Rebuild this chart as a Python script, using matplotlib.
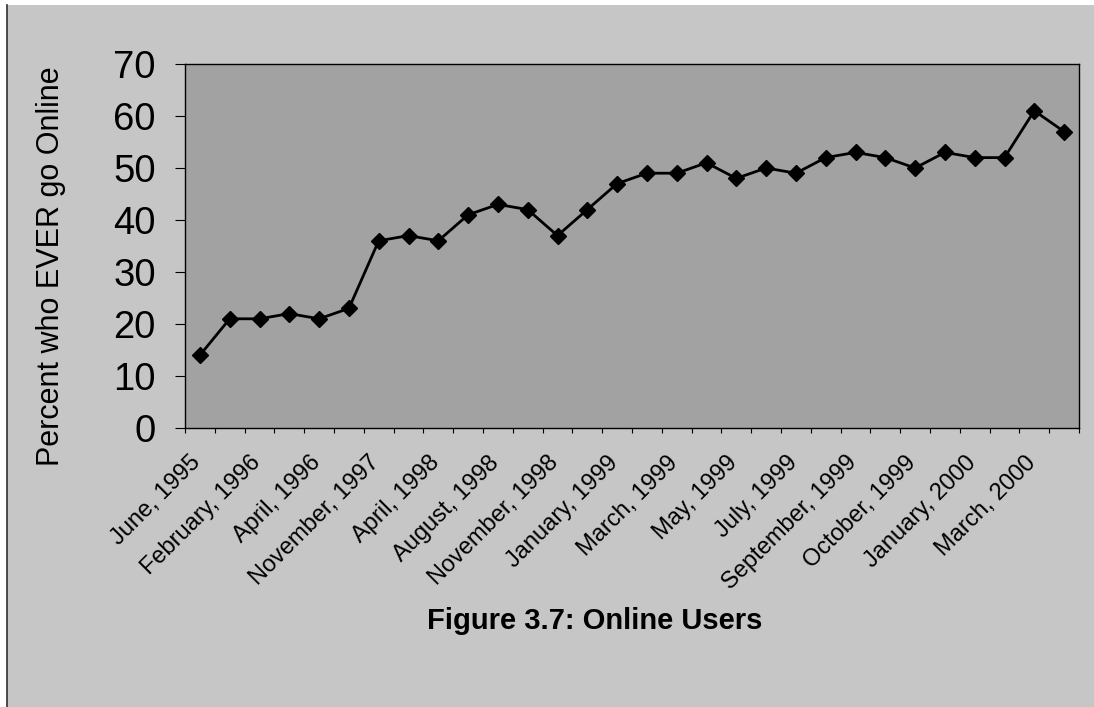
import matplotlib
matplotlib.use("Agg")
import matplotlib.pyplot as plt
import matplotlib.transforms as mtransforms
from matplotlib.patches import Rectangle

plt.rcParams['font.family'] = ['Liberation Sans', 'DejaVu Sans']

# Survey waves (every other wave is labelled on the axis)
tick_labels = ["June, 1995", "February, 1996", "April, 1996", "November, 1997",
               "April, 1998", "August, 1998", "November, 1998", "January, 1999",
               "March, 1999", "May, 1999", "July, 1999", "September, 1999",
               "October, 1999", "January, 2000", "March, 2000"]
# Percent of adults who ever go online, one value per survey wave
percent_online = [14, 21, 21, 22, 21, 23, 36, 37, 36, 41, 43, 42, 37, 42, 47,
                  49, 49, 51, 48, 50, 49, 52, 53, 52, 50, 53, 52, 52, 61, 57]
y_ticks = [0, 10, 20, 30, 40, 50, 60, 70]

W, H = 1094, 707
fig = plt.figure(figsize=(W / 100, H / 100), dpi=100, facecolor='white')

# page background with a dark left rule
fig.patches.append(Rectangle((7 / W, 0), 1 - 7 / W, 1 - 5 / H, transform=fig.transFigure,
                             facecolor='#c6c6c6', edgecolor='none', zorder=-2))
fig.add_artist(plt.Line2D([7 / W, 7 / W], [0, 1 - 5 / H], transform=fig.transFigure,
                          color='#303030', lw=1.2))

left, right, top, bottom = 185, 1079, 64, 428
ax = fig.add_axes([left / W, 1 - bottom / H, (right - left) / W, (bottom - top) / H])
ax.set_facecolor('#a2a2a2')

n = len(percent_online)
x = list(range(n))
ax.plot(x, percent_online, color='black', lw=2.0, marker='D', ms=7.8,
        markerfacecolor='black', markeredgecolor='black', zorder=3)

ax.set_xlim(-0.5, n - 0.5)
ax.set_ylim(0, 70)
ax.set_yticks(y_ticks)
ax.set_yticklabels([str(v) for v in y_ticks], fontsize=27.5)
ax.tick_params(axis='y', direction='out', length=7, width=0.8, pad=14, colors='black')

# ticks at category boundaries, labels at every other category centre
ax.set_xticks([i - 0.5 for i in range(n + 1)])
ax.set_xticklabels([])
ax.tick_params(axis='x', which='major', direction='out', length=3.5, width=0.8)
label_pos = list(range(0, n, 2))
ax.set_xticks(label_pos, minor=True)
ax.set_xticklabels(tick_labels, minor=True, rotation=45, ha='right', va='top',
                   rotation_mode='anchor', fontsize=17)
ax.tick_params(axis='x', which='minor', length=0, pad=17)
offset = mtransforms.ScaledTranslation(-10 / 100, 0, fig.dpi_scale_trans)
for lab in ax.xaxis.get_minorticklabels():
    lab.set_transform(lab.get_transform() + offset)

for s in ax.spines.values():
    s.set_color('black')
    s.set_linewidth(1.0)

fig.text(51 / W, 1 - 266 / H, "Percent who EVER go Online", rotation=90,
         ha='center', va='center', fontsize=22)
fig.text(595 / W, 1 - 621 / H, "Figure 3.7: Online Users", ha='center', va='center',
         fontsize=21, fontweight='bold')

fig.savefig("out.png", dpi=100, facecolor=fig.get_facecolor())
